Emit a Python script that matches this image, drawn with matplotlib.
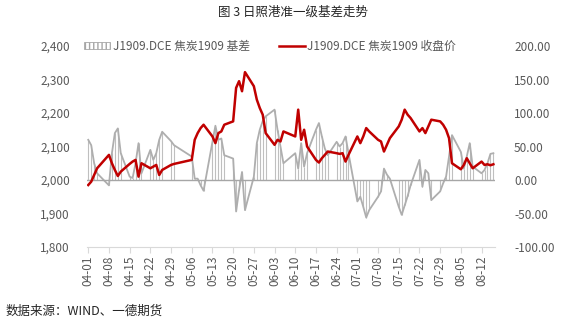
import numpy as np
import pandas as pd
import matplotlib
matplotlib.use("Agg")
import matplotlib.pyplot as plt
import matplotlib.dates as mdates
from matplotlib.patches import Patch
from matplotlib.lines import Line2D

plt.rcParams['font.family'] = ['Noto Sans CJK SC', 'DejaVu Sans']

# trading days, 2019-04-01 .. 2019-08-16 (Qingming, Labour Day, Dragon Boat closed)
holidays = ['2019-04-05', '2019-05-01', '2019-05-02', '2019-05-03', '2019-06-07']
trade_days = pd.bdate_range('2019-04-01', '2019-08-16', freq='C', holidays=holidays)

# J1909 close price (left axis)
close_apr = [1985, 1995, 2015, 2035, 2075, 2050, 2030, 2012, 2025, 2048, 2055,
             2060, 2010, 2050, 2035, 2040, 2045, 2015, 2030, 2045, 2048]
close_may = [2060, 2120, 2140, 2155, 2165, 2130, 2110, 2140, 2145, 2165,
             2175, 2275, 2295, 2265, 2322, 2280, 2240, 2215, 2195, 2140]
close_jun = [2105, 2120, 2115, 2145, 2130, 2210, 2120, 2150, 2100, 2060,
             2052, 2065, 2075, 2085, 2080, 2078, 2080, 2055, 2075]
close_jul = [2130, 2110, 2130, 2155, 2145, 2120, 2115, 2085, 2105, 2125, 2160, 2180,
             2210, 2195, 2185, 2145, 2155, 2140, 2160, 2180, 2175, 2165, 2150]
close_aug = [2125, 2050, 2032, 2045, 2065, 2050, 2035, 2055, 2045, 2047, 2044, 2047]

# Rizhao quasi-first-grade basis (right axis)
basis_apr = [60, 52, 25, 10, -8, 40, 70, 77, 40, 5, 3, 25, 55, 10, 45, 30, 40, 60, 72, 58, 52]
basis_may = [35, 2, 2, -8, -16, 57, 81, 60, 62, 37, 32, -47, -15, 12, -45, 5, 55, 75, 88, 95]
basis_jun = [105, 75, 50, 25, 40, 17, 55, 20, 40, 75, 85, 65, 47, 37, 57, 50, 55, 65, 40]
basis_jul = [-32, -25, -40, -56, -45, -25, -17, 17, 8, 2, -40, -52, -38, -24, -8,
             30, -10, 15, 10, -30, -17, -5, 5]
basis_aug = [35, 67, 42, 17, 35, 55, 20, 10, 15, 25, 39, 40]

close = close_apr + close_may + close_jun + close_jul + close_aug
basis = basis_apr + basis_may + basis_jun + basis_jul + basis_aug

label_basis = 'J1909.DCE 焦炭1909 基差'
label_close = 'J1909.DCE 焦炭1909 收盘价'

grey_txt = '#595959'
red = '#C00000'

fig = plt.figure(figsize=(5.85, 3.26), dpi=100)
ax = fig.add_axes([0.1479, 0.2423, 0.6976, 0.6166])
ax2 = ax.twinx()

# basis: thin vertical strokes from zero plus outline
ax2.vlines(trade_days, 0, basis, colors='#BFBFBF', lw=0.8, zorder=1)
ax2.plot(trade_days, basis, color='#AEAEAE', lw=1.3, zorder=2)
ax2.axhline(0, color='#A6A6A6', lw=1.0, zorder=2)
ax2.set_ylim(-100, 200)
ax2.set_yticks(np.arange(-100, 201, 50))
ax2.set_yticklabels([f'{v:.2f}' for v in np.arange(-100, 201, 50)])

# close price on top
ax.set_zorder(ax2.get_zorder() + 1)
ax.patch.set_visible(False)
ax.plot(trade_days, close, color=red, lw=1.8, zorder=3)
ax.set_ylim(1800, 2400)
ax.set_yticks(np.arange(1800, 2401, 100))
ax.set_yticklabels([f'{v:,}' for v in range(1800, 2401, 100)])

ticks = pd.date_range('2019-04-01', '2019-08-12', freq='7D')
ax.set_xticks(ticks)
ax.xaxis.set_major_formatter(mdates.DateFormatter('%m-%d'))
ax.set_xlim(trade_days[0] - pd.Timedelta(hours=14), trade_days[-1] + pd.Timedelta(hours=10))

for a in (ax, ax2):
    for s in a.spines.values():
        s.set_visible(False)
    a.tick_params(axis='y', length=0, labelsize=8.5, labelcolor=grey_txt, pad=12)
ax.spines['bottom'].set_visible(True)
ax.spines['bottom'].set_color('#D9D9D9')
ax.tick_params(axis='x', length=4, color='#D9D9D9', labelsize=8.5,
               labelcolor=grey_txt, labelrotation=90, pad=2)
ax2.tick_params(axis='y', pad=14)

handles = [Patch(facecolor='white', edgecolor='#A6A6A6', hatch='||||', lw=0.6),
           Line2D([0], [0], color=red, lw=1.8)]
leg = ax.legend(handles, [label_basis, label_close], ncol=2, frameon=False,
                loc='center', bbox_to_anchor=(0.45, 1.0), fontsize=8.5,
                handlelength=2.2, handleheight=0.6, handletextpad=0.2, columnspacing=2.5)
for t in leg.get_texts():
    t.set_color(grey_txt)

fig.text(0.5, 0.962, '图 3 日照港准一级基差走势', ha='center', va='center',
         fontsize=9, color='#262626')
fig.text(0.01, 0.045, '数据来源：WIND、一德期货', ha='left', va='center',
         fontsize=9, color='#262626')

fig.savefig('out.png', dpi=100)
